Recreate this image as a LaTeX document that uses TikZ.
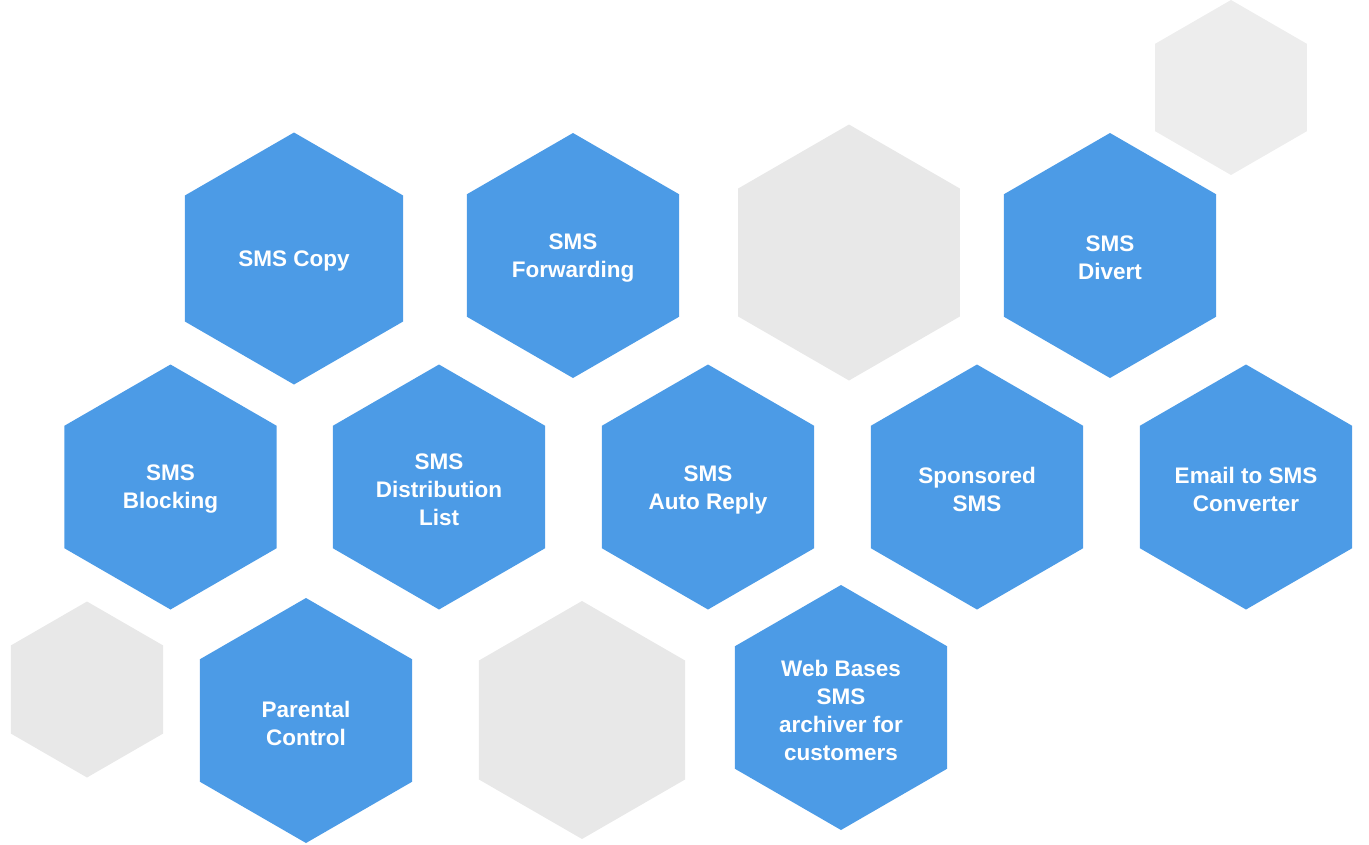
\documentclass[tikz,border=0pt]{standalone}
\usepackage{fontspec}
\setmainfont{Liberation Sans}
\usetikzlibrary{shapes.geometric}
\definecolor{hexblue}{HTML}{4C9BE6}
\definecolor{hexgray}{HTML}{E8E8E8}
\definecolor{hexgraylight}{HTML}{EDEDED}
\tikzset{
  hex/.style={regular polygon, regular polygon sides=6, shape border rotate=90,
    inner sep=0pt, outer sep=0pt, minimum size=#1},
  bluehex/.style={hex=#1, fill=hexblue},
  grayhex/.style={hex=#1, fill=hexgray},
  txt/.style={text=white, align=center, yshift=-2.5pt, inner sep=0pt,
    font=\fontsize{22.5}{28}\selectfont\bfseries},
}
\begin{document}
\begin{tikzpicture}[x=1pt,y=-1pt]
\useasboundingbox (0,0) rectangle (1369,844);
% row 1
\node[bluehex=252pt, label={[txt]center:{SMS Copy}}] (copy) at (294,258.5) {};
\node[bluehex=245pt, label={[txt]center:{SMS\\Forwarding}}] (fwd) at (573,255.5) {};
\node[grayhex=256pt] (g1) at (849,252.5) {};
\node[bluehex=245pt, label={[txt]center:{SMS\\Divert}}] (divert) at (1110,255.5) {};
\node[grayhex=175pt, fill=hexgraylight] (g2) at (1231,87.5) {};
% row 2
\node[bluehex=245pt, label={[txt]center:{SMS\\Blocking}}] (block) at (170.5,487) {};
\node[bluehex=245pt, label={[txt]center:{SMS\\Distribution\\List}}] (dist) at (439,487) {};
\node[bluehex=245pt, label={[txt]center:{SMS\\Auto Reply}}] (auto) at (708,487) {};
\node[bluehex=245pt, label={[txt]center:{Sponsored\\SMS}}] (spons) at (977,487) {};
\node[bluehex=245pt, label={[txt]center:{Email to SMS\\Converter}}] (email) at (1246,487) {};
% row 3
\node[grayhex=176pt] (g3) at (87,689.5) {};
\node[bluehex=245pt, label={[txt]center:{Parental\\Control}}] (parent) at (306,720.5) {};
\node[grayhex=238pt] (g4) at (582,720) {};
\node[bluehex=245pt, label={[txt]center:{Web Bases\\SMS\\archiver for\\customers}}] (web) at (841,707.5) {};
\end{tikzpicture}
\end{document}
